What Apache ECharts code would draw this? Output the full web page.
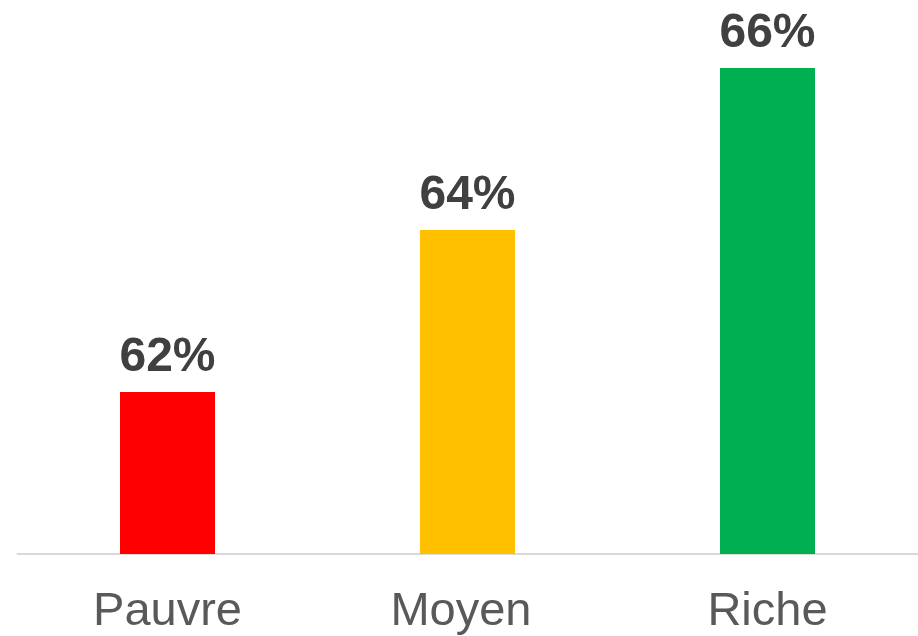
<!DOCTYPE html>
<html>
<head>
<meta charset="utf-8">
<script src="https://cdn.jsdelivr.net/npm/echarts@6/dist/echarts.min.js"></script>
<style>
html,body{margin:0;padding:0;background:#fff;}
#c{width:918px;height:636px;}
</style>
</head>
<body>
<div id="c"></div>
<script>
const categories = ['Pauvre', 'Moyen ', 'Riche'];
const values = [62, 64, 66];
const barColors = ['#FF0000', '#FFC000', '#00B050'];

const chart = echarts.init(document.getElementById('c'), null, {renderer: 'canvas'});
chart.setOption({
  animation: false,
  grid: {left: 17.5, right: 0.5, top: 0, bottom: 82, containLabel: false},
  xAxis: {
    type: 'category',
    data: categories,
    axisLine: {show: true, lineStyle: {color: '#D9D9D9', width: 2}},
    axisTick: {show: false},
    axisLabel: {color: '#595959', fontSize: 47, fontFamily: 'Liberation Sans, Arial, sans-serif', margin: 35}
  },
  yAxis: {
    type: 'value',
    min: 60,
    max: 66.84,
    show: false,
    splitLine: {show: false}
  },
  series: [{
    type: 'bar',
    barWidth: 95,
    data: values.map((v, i) => ({value: v, itemStyle: {color: barColors[i]}})),
    label: {
      show: true,
      position: 'top',
      distance: 10,
      formatter: p => p.value + '%',
      color: '#404040',
      fontSize: 48,
      fontWeight: 'bold',
      fontFamily: 'Liberation Sans, Arial, sans-serif'
    }
  }]
});
</script>
</body>
</html>
